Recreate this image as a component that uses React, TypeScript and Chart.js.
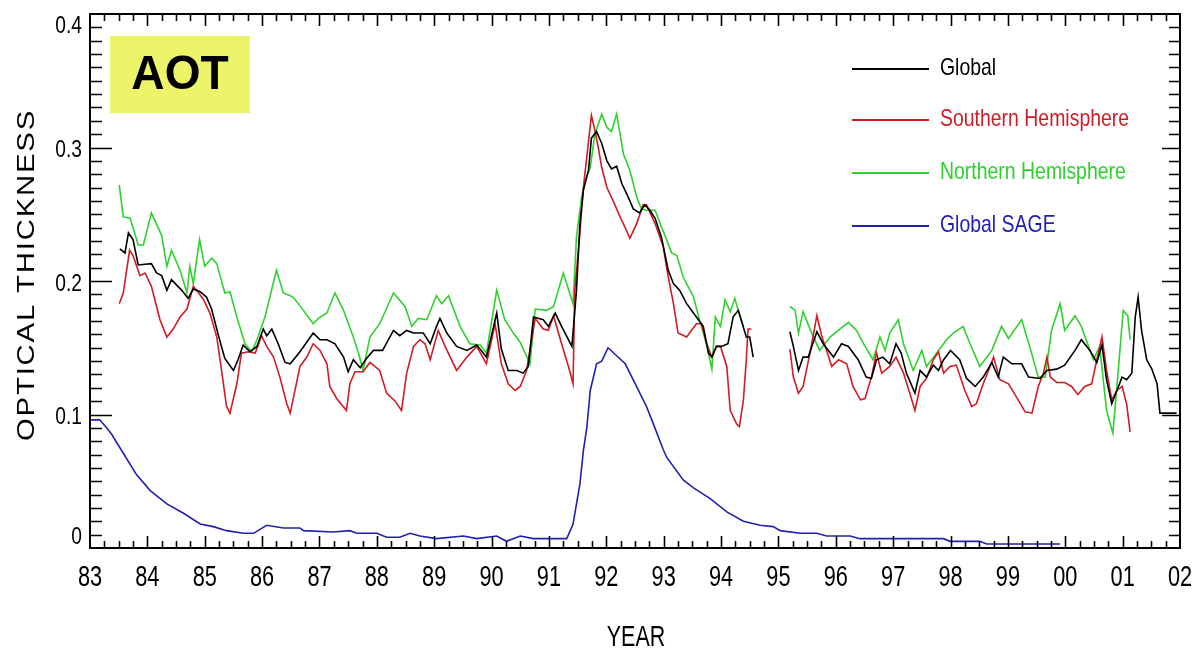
import { useEffect, useRef } from 'react';
import { Chart, registerables } from 'chart.js';

Chart.register(...registerables);

// ---- axis ranges & labels ----
const X_MIN = 83;
const X_MAX = 102;
const Y_MIN = 0;
const Y_MAX = 0.4;
const yearTickLabels = ['83', '84', '85', '86', '87', '88', '89', '90', '91', '92', '93', '94', '95', '96', '97', '98', '99', '00', '01', '02'];
const valueTicks = [0, 0.1, 0.2, 0.3, 0.4];
const valueTickLabels = ['0', '0.1', '0.2', '0.3', '0.4'];
const xTitle = 'YEAR';
const yTitle = 'OPTICAL THICKNESS';
const badgeText = 'AOT';
const seriesNames = ['Global', 'Southern Hemisphere', 'Northern Hemisphere', 'Global SAGE'];
const seriesColors = ['#000000', '#d01c24', '#2ed12e', '#2020b4'];

// ---- data: [year, optical thickness] ----
const globalPart1: [number, number][] = [
  [83.52, 0.224], [83.61, 0.221], [83.67, 0.236], [83.75, 0.231], [83.84, 0.212], [84.07, 0.213], [84.16, 0.206],
  [84.25, 0.204], [84.34, 0.193], [84.42, 0.201], [84.60, 0.193], [84.71, 0.187], [84.80, 0.194], [84.92, 0.192],
  [85.03, 0.188], [85.12, 0.179], [85.24, 0.159], [85.35, 0.142], [85.50, 0.133], [85.58, 0.141], [85.67, 0.152],
  [85.79, 0.147], [85.91, 0.151], [86.02, 0.164], [86.08, 0.159], [86.17, 0.164], [86.28, 0.153], [86.40, 0.139],
  [86.49, 0.138], [86.66, 0.147], [86.89, 0.161], [87.01, 0.156], [87.13, 0.156], [87.27, 0.153], [87.42, 0.143],
  [87.50, 0.132], [87.59, 0.141], [87.71, 0.135], [87.82, 0.142], [87.94, 0.148], [88.10, 0.148], [88.29, 0.163],
  [88.40, 0.159], [88.52, 0.163], [88.64, 0.161], [88.81, 0.161], [88.93, 0.153], [89.04, 0.166], [89.10, 0.172],
  [89.22, 0.161], [89.39, 0.151], [89.57, 0.148], [89.74, 0.152], [89.91, 0.143], [90.09, 0.176], [90.17, 0.149],
  [90.29, 0.133], [90.44, 0.133], [90.55, 0.131], [90.64, 0.136], [90.73, 0.173], [90.90, 0.171], [90.99, 0.166],
  [91.11, 0.176], [91.22, 0.166], [91.40, 0.151], [91.48, 0.193], [91.54, 0.243], [91.60, 0.268], [91.69, 0.283],
  [91.74, 0.307], [91.83, 0.312], [91.92, 0.303], [92.01, 0.290], [92.09, 0.284], [92.18, 0.286], [92.27, 0.273],
  [92.38, 0.263], [92.47, 0.254], [92.58, 0.251], [92.67, 0.257], [92.76, 0.253], [92.85, 0.247], [92.96, 0.233],
  [93.08, 0.208], [93.17, 0.198], [93.28, 0.193], [93.40, 0.183], [93.57, 0.173], [93.69, 0.166], [93.78, 0.146],
  [93.84, 0.143], [93.92, 0.151], [94.01, 0.151], [94.12, 0.153], [94.21, 0.173], [94.30, 0.178], [94.44, 0.158],
  [94.50, 0.158], [94.56, 0.143],
];
const globalPart2: [number, number][] = [
  [95.20, 0.162], [95.26, 0.151], [95.35, 0.133], [95.43, 0.143], [95.52, 0.143], [95.67, 0.162], [95.78, 0.153],
  [95.96, 0.143], [96.10, 0.153], [96.22, 0.151], [96.39, 0.141], [96.53, 0.128], [96.62, 0.127], [96.71, 0.141],
  [96.82, 0.143], [96.94, 0.138], [97.05, 0.153], [97.14, 0.146], [97.23, 0.131], [97.38, 0.116], [97.47, 0.133],
  [97.58, 0.128], [97.70, 0.137], [97.79, 0.133], [97.88, 0.141], [98.00, 0.148], [98.16, 0.141], [98.28, 0.127],
  [98.43, 0.121], [98.57, 0.128], [98.72, 0.139], [98.83, 0.128], [98.92, 0.143], [99.07, 0.138], [99.24, 0.138],
  [99.36, 0.128], [99.56, 0.127], [99.68, 0.133], [99.85, 0.134], [99.99, 0.137], [100.17, 0.148], [100.28, 0.156],
  [100.43, 0.148], [100.55, 0.139], [100.64, 0.152], [100.72, 0.126], [100.81, 0.108], [100.90, 0.118],
  [100.99, 0.128], [101.07, 0.126], [101.16, 0.131], [101.22, 0.173], [101.27, 0.188], [101.33, 0.163],
  [101.42, 0.141], [101.51, 0.134], [101.60, 0.123], [101.65, 0.101], [101.94, 0.101],
];

const southPart1: [number, number][] = [
  [83.51, 0.183], [83.58, 0.191], [83.69, 0.223], [83.75, 0.219], [83.87, 0.204], [83.96, 0.206], [84.07, 0.196],
  [84.22, 0.171], [84.34, 0.158], [84.45, 0.164], [84.57, 0.173], [84.69, 0.179], [84.80, 0.196], [84.86, 0.193],
  [84.98, 0.186], [85.09, 0.176], [85.21, 0.158], [85.30, 0.131], [85.38, 0.106], [85.44, 0.101], [85.56, 0.123],
  [85.64, 0.146], [85.76, 0.147], [85.88, 0.146], [85.99, 0.159], [86.08, 0.151], [86.20, 0.143], [86.31, 0.128],
  [86.43, 0.108], [86.49, 0.101], [86.66, 0.136], [86.78, 0.143], [86.89, 0.153], [87.01, 0.148], [87.13, 0.138],
  [87.18, 0.121], [87.30, 0.112], [87.47, 0.103], [87.53, 0.123], [87.62, 0.132], [87.76, 0.132], [87.88, 0.139],
  [88.05, 0.133], [88.17, 0.116], [88.32, 0.110], [88.43, 0.103], [88.52, 0.131], [88.64, 0.151], [88.75, 0.156],
  [88.84, 0.153], [88.93, 0.141], [89.07, 0.163], [89.19, 0.151], [89.39, 0.133], [89.57, 0.143], [89.74, 0.151],
  [89.91, 0.138], [90.06, 0.168], [90.17, 0.138], [90.29, 0.123], [90.41, 0.118], [90.50, 0.121], [90.61, 0.133],
  [90.76, 0.172], [90.90, 0.164], [90.99, 0.163], [91.08, 0.174], [91.22, 0.153], [91.34, 0.136], [91.42, 0.123],
  [91.45, 0.193], [91.54, 0.236], [91.60, 0.270], [91.66, 0.293], [91.74, 0.324], [91.80, 0.313], [91.86, 0.300],
  [91.92, 0.285], [92.01, 0.270], [92.12, 0.260], [92.24, 0.248], [92.35, 0.238], [92.41, 0.232], [92.53, 0.243],
  [92.64, 0.257], [92.70, 0.257], [92.85, 0.243], [92.99, 0.226], [93.08, 0.203], [93.17, 0.183], [93.25, 0.161],
  [93.40, 0.158], [93.57, 0.168], [93.66, 0.168], [93.75, 0.153], [93.84, 0.143], [93.92, 0.151], [93.99, 0.151],
  [94.10, 0.136], [94.16, 0.103], [94.27, 0.093], [94.32, 0.091], [94.39, 0.111], [94.44, 0.141], [94.47, 0.164],
  [94.53, 0.164],
];
const southPart2: [number, number][] = [
  [95.20, 0.149], [95.26, 0.128], [95.35, 0.116], [95.43, 0.121], [95.55, 0.146], [95.67, 0.174], [95.76, 0.158],
  [95.84, 0.148], [95.93, 0.136], [96.05, 0.141], [96.19, 0.138], [96.30, 0.121], [96.43, 0.111], [96.51, 0.112],
  [96.62, 0.128], [96.71, 0.146], [96.80, 0.131], [96.94, 0.136], [97.05, 0.143], [97.18, 0.131], [97.29, 0.116],
  [97.38, 0.103], [97.47, 0.121], [97.58, 0.127], [97.70, 0.141], [97.79, 0.147], [97.88, 0.131], [97.99, 0.136],
  [98.10, 0.137], [98.25, 0.118], [98.37, 0.106], [98.45, 0.108], [98.57, 0.123], [98.69, 0.136], [98.75, 0.143],
  [98.86, 0.126], [99.01, 0.123], [99.15, 0.113], [99.30, 0.102], [99.42, 0.101], [99.53, 0.121], [99.62, 0.131],
  [99.68, 0.143], [99.74, 0.128], [99.85, 0.124], [99.99, 0.124], [100.11, 0.121], [100.22, 0.115], [100.34, 0.121],
  [100.46, 0.123], [100.55, 0.141], [100.64, 0.158], [100.72, 0.133], [100.81, 0.111], [100.90, 0.118],
  [100.99, 0.121], [101.07, 0.108], [101.13, 0.087],
];

const northPart1: [number, number][] = [
  [83.51, 0.272], [83.58, 0.248], [83.70, 0.247], [83.84, 0.227], [83.93, 0.227], [84.07, 0.251], [84.25, 0.234],
  [84.34, 0.211], [84.42, 0.223], [84.57, 0.208], [84.69, 0.191], [84.74, 0.211], [84.80, 0.198], [84.91, 0.231],
  [85.00, 0.211], [85.12, 0.217], [85.21, 0.213], [85.35, 0.191], [85.44, 0.192], [85.56, 0.173], [85.70, 0.153],
  [85.82, 0.147], [85.91, 0.156], [86.05, 0.173], [86.25, 0.208], [86.37, 0.191], [86.49, 0.189], [86.54, 0.188],
  [86.72, 0.178], [86.89, 0.168], [86.98, 0.172], [87.13, 0.176], [87.27, 0.191], [87.42, 0.178], [87.59, 0.158],
  [87.68, 0.146], [87.76, 0.133], [87.88, 0.158], [88.05, 0.168], [88.29, 0.191], [88.49, 0.181], [88.61, 0.166],
  [88.72, 0.172], [88.87, 0.171], [89.04, 0.189], [89.13, 0.183], [89.25, 0.189], [89.45, 0.166], [89.62, 0.153],
  [89.80, 0.152], [89.91, 0.146], [90.09, 0.193], [90.23, 0.171], [90.38, 0.161], [90.50, 0.154], [90.67, 0.138],
  [90.76, 0.179], [90.96, 0.178], [91.08, 0.181], [91.25, 0.206], [91.42, 0.183], [91.48, 0.233], [91.57, 0.263],
  [91.63, 0.275], [91.72, 0.285], [91.80, 0.310], [91.92, 0.325], [92.01, 0.315], [92.09, 0.312], [92.18, 0.325],
  [92.30, 0.295], [92.41, 0.283], [92.53, 0.263], [92.61, 0.254], [92.70, 0.253], [92.85, 0.253], [92.94, 0.243],
  [93.05, 0.231], [93.14, 0.221], [93.23, 0.219], [93.34, 0.203], [93.52, 0.188], [93.63, 0.170], [93.75, 0.152],
  [93.84, 0.134], [93.90, 0.173], [93.99, 0.166], [94.07, 0.186], [94.16, 0.177], [94.24, 0.187], [94.30, 0.178],
  [94.39, 0.166],
];
const northPart2: [number, number][] = [
  [95.20, 0.181], [95.29, 0.178], [95.35, 0.161], [95.43, 0.177], [95.58, 0.161], [95.72, 0.148], [95.90, 0.158],
  [96.07, 0.164], [96.22, 0.169], [96.36, 0.163], [96.51, 0.151], [96.65, 0.141], [96.77, 0.158], [96.86, 0.148],
  [96.94, 0.161], [97.09, 0.171], [97.18, 0.153], [97.35, 0.133], [97.50, 0.148], [97.58, 0.136], [97.76, 0.146],
  [97.93, 0.156], [98.05, 0.161], [98.22, 0.166], [98.34, 0.153], [98.51, 0.136], [98.72, 0.148], [98.89, 0.166],
  [99.01, 0.157], [99.24, 0.171], [99.38, 0.151], [99.53, 0.128], [99.65, 0.128], [99.76, 0.163], [99.91, 0.183],
  [99.99, 0.163], [100.17, 0.174], [100.28, 0.166], [100.49, 0.141], [100.60, 0.151], [100.72, 0.103],
  [100.83, 0.086], [100.92, 0.131], [101.01, 0.178], [101.09, 0.174], [101.13, 0.156],
];

const sageValues: [number, number][] = [
  [83.00, 0.096], [83.17, 0.096], [83.29, 0.090], [83.38, 0.085], [83.58, 0.071], [83.81, 0.055], [84.05, 0.043],
  [84.34, 0.033], [84.63, 0.026], [84.92, 0.018], [85.15, 0.016], [85.38, 0.013], [85.67, 0.011], [85.85, 0.011],
  [86.08, 0.017], [86.37, 0.015], [86.66, 0.015], [86.72, 0.013], [87.24, 0.012], [87.53, 0.013], [87.65, 0.011],
  [88.00, 0.011], [88.17, 0.008], [88.40, 0.008], [88.58, 0.011], [88.75, 0.009], [89.04, 0.007], [89.51, 0.009],
  [89.74, 0.007], [90.09, 0.009], [90.26, 0.005], [90.50, 0.009], [90.73, 0.007], [91.31, 0.007], [91.42, 0.018],
  [91.54, 0.048], [91.60, 0.073], [91.66, 0.090], [91.72, 0.118], [91.83, 0.138], [91.92, 0.140], [92.03, 0.150],
  [92.18, 0.144], [92.33, 0.138], [92.47, 0.126], [92.70, 0.106], [92.82, 0.093], [92.99, 0.074], [93.05, 0.068],
  [93.34, 0.051], [93.52, 0.045], [93.81, 0.037], [94.10, 0.027], [94.39, 0.020], [94.68, 0.017], [94.91, 0.016],
  [95.03, 0.013], [95.38, 0.011], [95.67, 0.011], [95.84, 0.009], [96.25, 0.009], [96.42, 0.007], [97.00, 0.007],
  [97.88, 0.007], [97.99, 0.005], [98.51, 0.005], [98.63, 0.003], [99.91, 0.003],
];

const GAP_YEAR = 94.9;

function toPoints(...parts: [number, number][][]) {
  const out: { x: number; y: number | null }[] = [];
  parts.forEach((p, i) => {
    if (i > 0) out.push({ x: GAP_YEAR, y: null });
    p.forEach(([x, y]) => out.push({ x, y }));
  });
  return out;
}

const FONT = '"Liberation Sans", Arial, Helvetica, sans-serif';

function drawScaledText(
  ctx: CanvasRenderingContext2D, text: string, x: number, y: number,
  font: string, sx: number, align: CanvasTextAlign, color: string,
) {
  ctx.save();
  ctx.translate(x, y);
  ctx.scale(sx, 1);
  ctx.font = font;
  ctx.textAlign = align;
  ctx.textBaseline = 'middle';
  ctx.fillStyle = color;
  ctx.fillText(text, 0, 0);
  ctx.restore();
}

const decorPlugin = {
  id: 'idlDecor',
  afterDraw(chart: any) {
    const { ctx, chartArea: a, scales } = chart;
    const xs = scales.x;
    const ys = scales.y;
    ctx.save();
    ctx.strokeStyle = '#000';
    ctx.lineWidth = 2;
    ctx.strokeRect(a.left, a.top, a.right - a.left, a.bottom - a.top);

    // x ticks (quarterly minor, yearly major) on bottom and top
    ctx.lineWidth = 1.6;
    ctx.beginPath();
    const nx = Math.round((X_MAX - X_MIN) * 4);
    for (let i = 1; i < nx; i++) {
      const px = Math.round(xs.getPixelForValue(X_MIN + i / 4)) + 0.5;
      const len = i % 4 === 0 ? 12 : 7;
      ctx.moveTo(px, a.bottom);
      ctx.lineTo(px, a.bottom - len);
      ctx.moveTo(px, a.top);
      ctx.lineTo(px, a.top + len);
    }
    // y ticks (0.01 minor, 0.1 major) on left and right
    for (let i = 1; i < 40; i++) {
      const py = Math.round(ys.getPixelForValue(Y_MIN + i * 0.01)) + 0.5;
      const major = i % 10 === 0;
      ctx.moveTo(a.left, py);
      ctx.lineTo(a.left + (major ? 22 : 12), py);
      ctx.moveTo(a.right, py);
      ctx.lineTo(a.right - (major ? 18 : 11), py);
    }
    ctx.stroke();

    // y tick labels
    valueTicks.forEach((v, i) => {
      let py = ys.getPixelForValue(v) + 3;
      if (v === Y_MAX) py += 9;
      if (v === Y_MIN) py -= 14;
      drawScaledText(ctx, valueTickLabels[i], 82, py, `24px ${FONT}`, 0.8, 'right', '#000');
    });
    // x tick labels
    yearTickLabels.forEach((lab, i) => {
      const px = xs.getPixelForValue(X_MIN + i);
      drawScaledText(ctx, lab, px, 578, `29px ${FONT}`, 0.75, 'center', '#000');
    });
    // axis titles
    drawScaledText(ctx, xTitle, 636, 638, `29px ${FONT}`, 0.74, 'center', '#000');
    ctx.save();
    ctx.translate(27, 275);
    ctx.rotate(-Math.PI / 2);
    ctx.scale(1.22, 1);
    ctx.font = `24px ${FONT}`;
    (ctx as any).letterSpacing = '1.5px';
    ctx.textAlign = 'center';
    ctx.textBaseline = 'middle';
    ctx.fillStyle = '#000';
    ctx.fillText(yTitle, 0, 0);
    ctx.restore();

    // AOT badge
    ctx.fillStyle = '#ecf46a';
    ctx.fillRect(110, 36, 140, 77);
    drawScaledText(ctx, badgeText, 180, 76, `bold 48px ${FONT}`, 0.96, 'center', '#000');

    // legend
    const legendY = [69, 120, 173, 226];
    seriesNames.forEach((name, i) => {
      ctx.strokeStyle = seriesColors[i];
      ctx.lineWidth = 2;
      ctx.beginPath();
      ctx.moveTo(852, legendY[i]);
      ctx.lineTo(929, legendY[i]);
      ctx.stroke();
      drawScaledText(ctx, name, 940, legendY[i] - 1, `24px ${FONT}`, 0.81, 'left', seriesColors[i]);
    });
    ctx.restore();
  },
};

export default function App() {
  const canvasRef = useRef<HTMLCanvasElement | null>(null);

  useEffect(() => {
    const canvas = canvasRef.current;
    if (!canvas) return;
    const mk = (idx: number, data: { x: number; y: number | null }[]) => ({
      label: seriesNames[idx],
      data,
      borderColor: seriesColors[idx],
      backgroundColor: seriesColors[idx],
      borderWidth: 1.6,
      pointRadius: 0,
      pointHoverRadius: 0,
      tension: 0,
      spanGaps: false,
      fill: false,
    });
    const chart = new Chart(canvas, {
      type: 'line',
      data: {
        datasets: [
          mk(0, toPoints(globalPart1, globalPart2)),
          mk(1, toPoints(southPart1, southPart2)),
          mk(2, toPoints(northPart1, northPart2)),
          mk(3, toPoints(sageValues)),
        ],
      },
      options: {
        animation: false,
        responsive: false,
        maintainAspectRatio: false,
        devicePixelRatio: 1,
        layout: { padding: { left: 90, top: 14, right: 20, bottom: 109 } },
        scales: {
          x: { type: 'linear', min: X_MIN, max: X_MAX, display: false },
          y: { type: 'linear', min: Y_MIN, max: Y_MAX, display: false },
        },
        plugins: {
          legend: { display: false },
          tooltip: { enabled: false },
        },
        events: [],
      },
      plugins: [decorPlugin],
    });
    return () => chart.destroy();
  }, []);

  return (
    <div style={{ position: 'fixed', left: 0, top: 0, width: 1200, height: 657, background: '#ffffff' }}>
      <canvas ref={canvasRef} width={1200} height={657} style={{ display: 'block', width: 1200, height: 657 }} />
    </div>
  );
}
